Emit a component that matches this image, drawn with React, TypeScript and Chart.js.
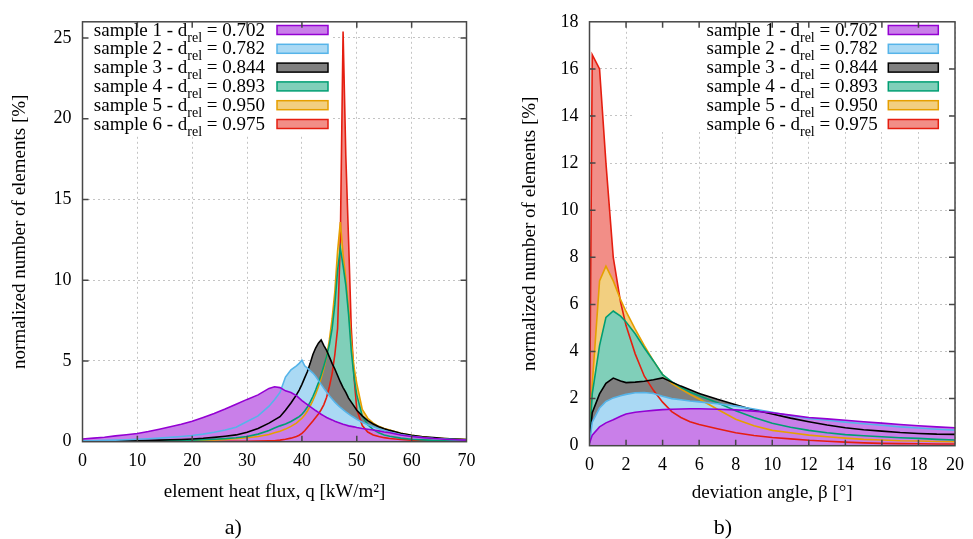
import React, { useEffect, useRef } from 'react';
import { Chart, registerables } from 'chart.js';

Chart.register(...registerables);

const SERIF = '"Liberation Serif", "Times New Roman", serif';

const SAMPLE_LABELS = ['sample 1', 'sample 2', 'sample 3', 'sample 4', 'sample 5', 'sample 6'];
const D_REL_VALUES = ['0.702', '0.782', '0.844', '0.893', '0.950', '0.975'];
const LINE_COLORS = ['#9400d3', '#56b4e9', '#000000', '#009e73', '#e69f00', '#e51e10'];
const FILL_COLORS = ['#c97fe9', '#aad9f4', '#808080', '#80cfb9', '#f2cf80', '#f28e87'];

// ---- panel a) element heat flux q [kW/m2] ----
const HEAT_FLUX = [0, 2, 4, 6, 8, 10, 12, 14, 16, 18, 20, 22, 24, 26, 28, 30, 32, 34,
  35, 36, 37, 38,
  39, 39.5, 40, 40.5, 41, 41.5, 42, 42.5, 43, 43.5, 44, 44.5, 45, 45.5, 46, 46.5, 47, 47.5, 48, 48.5, 49, 49.5, 50,
  51, 52, 53, 54, 55, 56,
  58, 60, 62, 64, 66, 68, 70];
const Q_SAMPLE1 = [0.17, 0.22, 0.28, 0.36, 0.43, 0.51, 0.63, 0.77, 0.92, 1.08, 1.26, 1.5, 1.75, 2.02, 2.32, 2.62, 2.9, 3.3,
  3.4, 3.35, 3.15, 3.05,
  2.85, 2.7, 2.55, 2.42, 2.3, 2.17, 2.05, 1.93, 1.82, 1.7, 1.6, 1.5, 1.42, 1.35, 1.27, 1.2, 1.14, 1.08, 1.03, 0.98, 0.95, 0.92, 0.88,
  0.82, 0.77, 0.72, 0.67, 0.6, 0.55,
  0.42, 0.32, 0.25, 0.2, 0.15, 0.12, 0.1];
const Q_SAMPLE2 = [0.05, 0.06, 0.08, 0.1, 0.12, 0.15, 0.18, 0.22, 0.27, 0.32, 0.38, 0.47, 0.58, 0.72, 0.9, 1.25, 1.6, 2.2,
  2.6, 3.05, 4.0, 4.45,
  4.7, 4.85, 5.05, 4.7, 4.55, 4.4, 4.25, 4.05, 3.8, 3.55, 3.3, 3.08, 2.85, 2.65, 2.45, 2.28, 2.12, 1.98, 1.85, 1.72, 1.6, 1.5, 1.38,
  1.2, 1.05, 0.92, 0.8, 0.7, 0.6,
  0.45, 0.34, 0.26, 0.2, 0.16, 0.13, 0.1];
const Q_SAMPLE3 = [0.02, 0.03, 0.04, 0.05, 0.06, 0.07, 0.09, 0.1, 0.12, 0.14, 0.17, 0.21, 0.27, 0.34, 0.42, 0.58, 0.82, 1.15,
  1.35, 1.55, 1.95, 2.4,
  2.9, 3.2, 3.55, 3.95, 4.35, 4.85, 5.4, 5.8, 6.1, 6.3, 5.95, 5.65, 5.25, 4.85, 4.5, 4.1, 3.7, 3.35, 3.05, 2.7, 2.45, 2.2, 1.95,
  1.6, 1.3, 1.1, 0.93, 0.8, 0.7,
  0.52, 0.4, 0.31, 0.25, 0.2, 0.16, 0.13];
const Q_SAMPLE4 = [0.01, 0.01, 0.02, 0.02, 0.03, 0.04, 0.05, 0.06, 0.07, 0.08, 0.1, 0.12, 0.15, 0.19, 0.24, 0.32, 0.47, 0.7,
  0.85, 0.98, 1.1, 1.25,
  1.45, 1.55, 1.7, 1.9, 2.15, 2.45, 2.8, 3.2, 3.65, 4.15, 4.7, 5.3, 6.0, 7.0, 8.5, 10.6, 12.0, 10.9, 9.7, 7.9, 5.6, 4.0, 2.9,
  1.6, 1.05, 0.75, 0.55, 0.42, 0.34,
  0.22, 0.15, 0.11, 0.08, 0.06, 0.05, 0.04];
const Q_SAMPLE5 = [0.01, 0.01, 0.01, 0.02, 0.02, 0.03, 0.03, 0.04, 0.05, 0.06, 0.07, 0.09, 0.11, 0.14, 0.18, 0.24, 0.32, 0.45,
  0.55, 0.65, 0.78, 0.95,
  1.15, 1.3, 1.45, 1.65, 1.9, 2.2, 2.55, 2.95, 3.4, 3.95, 4.55, 5.3, 6.3, 7.6, 9.3, 11.8, 13.6, 11.6, 10.1, 8.2, 6.2, 4.6, 3.6,
  2.0, 1.45, 1.15, 0.95, 0.82, 0.72,
  0.52, 0.4, 0.3, 0.23, 0.19, 0.16, 0.13];
const Q_SAMPLE6 = [0, 0, 0, 0, 0, 0.01, 0.01, 0.01, 0.01, 0.01, 0.02, 0.02, 0.02, 0.02, 0.03, 0.03, 0.04, 0.05,
  0.06, 0.1, 0.15, 0.22,
  0.32, 0.4, 0.52, 0.68, 0.88, 1.08, 1.28, 1.5, 1.72, 1.98, 2.3, 2.75, 3.4, 4.2, 5.4, 7.0, 12.5, 25.4, 17.7, 12.5, 7.0, 4.0, 2.0,
  1.0, 0.6, 0.42, 0.32, 0.25, 0.2,
  0.14, 0.1, 0.08, 0.06, 0.05, 0.04, 0.03];

// ---- panel b) deviation angle beta [deg] ----
const ANGLE = [0, 0.15, 0.55, 0.9, 1.3, 1.7, 2, 2.5, 3, 3.5, 4, 4.5, 5, 5.5, 6, 7, 8, 9, 10, 11, 12, 13, 14, 15, 16, 17, 18, 19, 20];
const B_SAMPLE1 = [0.1, 0.45, 0.8, 0.97, 1.1, 1.25, 1.35, 1.42, 1.46, 1.5, 1.53, 1.55, 1.56, 1.57, 1.57, 1.55, 1.52, 1.47, 1.4, 1.3, 1.2, 1.14, 1.08, 1.02, 0.96, 0.9, 0.85, 0.8, 0.76];
const B_SAMPLE2 = [0.1, 1.0, 1.6, 1.88, 2.03, 2.12, 2.18, 2.25, 2.26, 2.22, 2.1, 2.0, 1.95, 1.9, 1.86, 1.78, 1.68, 1.56, 1.42, 1.27, 1.16, 1.08, 1.0, 0.93, 0.87, 0.8, 0.75, 0.7, 0.66];
const B_SAMPLE3 = [0.15, 1.4, 2.2, 2.65, 2.87, 2.75, 2.68, 2.7, 2.74, 2.8, 2.88, 2.7, 2.53, 2.38, 2.22, 1.97, 1.74, 1.52, 1.35, 1.17, 1.02, 0.88, 0.76, 0.68, 0.62, 0.56, 0.52, 0.49, 0.48];
const B_SAMPLE4 = [0.2, 2.2, 4.25, 5.45, 5.72, 5.5, 5.25, 4.75, 4.15, 3.6, 3.02, 2.72, 2.48, 2.28, 2.12, 1.82, 1.48, 1.2, 0.95, 0.78, 0.65, 0.55, 0.47, 0.42, 0.38, 0.34, 0.31, 0.27, 0.24];
const B_SAMPLE5 = [0.2, 2.6, 7.0, 7.62, 7.0, 6.2, 5.7, 4.95, 4.25, 3.6, 3.02, 2.65, 2.4, 2.18, 1.98, 1.55, 1.12, 0.85, 0.65, 0.55, 0.45, 0.38, 0.32, 0.27, 0.24, 0.21, 0.2, 0.18, 0.17];
const B_SAMPLE6 = [0.1, 16.6, 16.0, 12.0, 8.0, 6.1, 5.1, 3.9, 2.95, 2.35, 1.85, 1.45, 1.2, 1.02, 0.9, 0.72, 0.55, 0.43, 0.35, 0.29, 0.23, 0.19, 0.15, 0.12, 0.1, 0.09, 0.08, 0.07, 0.07];

const Q_AXIS = { min: 0, max: 70, step: 10 };
const Q_COUNT_AXIS = { min: 0, max: 26, step: 5 };
const B_AXIS = { min: 0, max: 20, step: 2 };
const B_COUNT_AXIS = { min: 0, max: 18, step: 2 };

function buildDatasets(xs: number[], series: number[][]) {
  const lines = series.map((ys, i) => ({
    label: SAMPLE_LABELS[i] + ' line',
    data: xs.map((x, j) => ({ x, y: ys[j] })),
    borderColor: LINE_COLORS[i],
    borderWidth: 1.6,
    backgroundColor: 'rgba(0,0,0,0)',
    fill: false,
    pointRadius: 0,
    tension: 0,
  }));
  const fills = series.map((ys, i) => ({
    label: SAMPLE_LABELS[i] + ' area',
    data: xs.map((x, j) => ({ x, y: ys[j] })),
    borderColor: 'rgba(0,0,0,0)',
    borderWidth: 1,
    backgroundColor: FILL_COLORS[i],
    fill: 'origin',
    pointRadius: 0,
    tension: 0,
  }));
  // dataset 0 is painted last: lines on top, sample 1 area above sample 6 area
  return [...lines, ...fills];
}

type KeyLayout = {
  boxLeft: number; boxTop: number; boxRight: number; boxBottom: number;
  textRight: number; swatchLeft: number; swatchWidth: number;
  firstBaseline: number; rowStep: number;
};

function gnuplotFrame(key: KeyLayout) {
  return {
    id: 'gnuplotFrame',
    beforeDatasetsDraw(chart: any) {
      const ctx = chart.ctx;
      ctx.save();
      ctx.fillStyle = '#ffffff';
      ctx.fillRect(key.boxLeft, key.boxTop, key.boxRight - key.boxLeft, key.boxBottom - key.boxTop);
      ctx.textBaseline = 'alphabetic';
      ctx.textAlign = 'left';
      const mainFont = `19px ${SERIF}`;
      const subFont = `14px ${SERIF}`;
      for (let i = 0; i < SAMPLE_LABELS.length; i++) {
        const base = key.firstBaseline + i * key.rowStep;
        const p1 = `${SAMPLE_LABELS[i]} - d`;
        const p2 = 'rel';
        const p3 = ` = ${D_REL_VALUES[i]}`;
        ctx.font = mainFont;
        const w1 = ctx.measureText(p1).width;
        const w3 = ctx.measureText(p3).width;
        ctx.font = subFont;
        const w2 = ctx.measureText(p2).width;
        const x0 = key.textRight - (w1 + w2 + w3);
        ctx.fillStyle = '#000000';
        ctx.font = mainFont;
        ctx.fillText(p1, x0, base);
        ctx.fillText(p3, x0 + w1 + w2, base);
        ctx.font = subFont;
        ctx.fillText(p2, x0 + w1, base + 6);
        const sy = base - 10;
        ctx.fillStyle = FILL_COLORS[i];
        ctx.fillRect(key.swatchLeft, sy, key.swatchWidth, 9);
        ctx.strokeStyle = LINE_COLORS[i];
        ctx.lineWidth = 1.5;
        ctx.strokeRect(key.swatchLeft, sy, key.swatchWidth, 9);
      }
      ctx.restore();
    },
    afterDatasetsDraw(chart: any) {
      const ctx = chart.ctx;
      const { left, right, top, bottom } = chart.chartArea;
      const xs = chart.scales.x;
      const ys = chart.scales.y;
      ctx.save();
      ctx.strokeStyle = '#474747';
      ctx.lineWidth = 1.5;
      ctx.beginPath();
      for (const t of xs.ticks) {
        const px = xs.getPixelForValue(t.value);
        if (px <= left + 1 || px >= right - 1) continue;
        ctx.moveTo(px, bottom); ctx.lineTo(px, bottom - 6);
        ctx.moveTo(px, top); ctx.lineTo(px, top + 6);
      }
      for (const t of ys.ticks) {
        const py = ys.getPixelForValue(t.value);
        if (py <= top + 1 || py >= bottom - 1) continue;
        ctx.moveTo(left, py); ctx.lineTo(left + 6, py);
        ctx.moveTo(right, py); ctx.lineTo(right - 6, py);
      }
      ctx.stroke();
      ctx.strokeRect(left, top, right - left, bottom - top);
      ctx.restore();
    },
  };
}

type PanelSpec = {
  xs: number[]; series: number[][];
  xAxis: { min: number; max: number; step: number };
  yAxis: { min: number; max: number; step: number };
  xTitle: string; yTitle: string; caption: string;
  padRight: number; yAxisWidth: number; xAxisHeight: number;
  yTitlePad: number; xTitlePad: number; key: KeyLayout;
};

function makeConfig(p: PanelSpec): any {
  const tickFont = { family: SERIF, size: 18 };
  const titleFont = { family: SERIF, size: 19 };
  return {
    type: 'line',
    data: { datasets: buildDatasets(p.xs, p.series) },
    options: {
      animation: false,
      responsive: false,
      maintainAspectRatio: false,
      devicePixelRatio: 1,
      layout: { padding: { top: 15, right: p.padRight, left: 0, bottom: 0 } },
      plugins: {
        legend: { display: false },
        tooltip: { enabled: false },
        title: {
          display: true, text: p.caption, position: 'bottom', color: '#000000',
          font: { family: SERIF, size: 22, weight: 'normal', lineHeight: 1 },
          padding: { top: 8, bottom: 0 },
        },
      },
      scales: {
        x: {
          type: 'linear', min: p.xAxis.min, max: p.xAxis.max,
          ticks: { stepSize: p.xAxis.step, font: tickFont, color: '#000000', padding: 9, maxRotation: 0, includeBounds: false },
          grid: { color: '#c4c4c4', lineWidth: 1, drawTicks: false },
          border: { display: false, dash: [2, 3] },
          title: { display: true, text: p.xTitle, font: titleFont, color: '#000000', padding: { top: 0, bottom: p.xTitlePad } },
          afterFit: (s: any) => { s.height = p.xAxisHeight; },
        },
        y: {
          type: 'linear', min: p.yAxis.min, max: p.yAxis.max,
          ticks: { stepSize: p.yAxis.step, font: tickFont, color: '#000000', padding: 11, includeBounds: false },
          grid: { color: '#c4c4c4', lineWidth: 1, drawTicks: false },
          border: { display: false, dash: [2, 3] },
          title: { display: true, text: p.yTitle, font: titleFont, color: '#000000', padding: { top: p.yTitlePad, bottom: 0 } },
          afterFit: (s: any) => { s.width = p.yAxisWidth; },
        },
      },
    },
    plugins: [gnuplotFrame(p.key)],
  };
}

const PANEL_A: PanelSpec = {
  xs: HEAT_FLUX,
  series: [Q_SAMPLE1, Q_SAMPLE2, Q_SAMPLE3, Q_SAMPLE4, Q_SAMPLE5, Q_SAMPLE6],
  xAxis: Q_AXIS, yAxis: Q_COUNT_AXIS,
  xTitle: 'element heat flux, q [kW/m²]',
  yTitle: 'normalized number of elements [%]',
  caption: 'a)',
  padRight: 19.5, yAxisWidth: 82.5, xAxisHeight: 67.3,
  yTitlePad: 8.6, xTitlePad: 5.6,
  key: { boxLeft: 84, boxTop: 16, boxRight: 331, boxBottom: 135, textRight: 265, swatchLeft: 277, swatchWidth: 51, firstBaseline: 35.5, rowStep: 18.8 },
};

const PANEL_B: PanelSpec = {
  xs: ANGLE,
  series: [B_SAMPLE1, B_SAMPLE2, B_SAMPLE3, B_SAMPLE4, B_SAMPLE5, B_SAMPLE6],
  xAxis: B_AXIS, yAxis: B_COUNT_AXIS,
  xTitle: 'deviation angle, β [°]',
  yTitle: 'normalized number of elements [%]',
  caption: 'b)',
  padRight: 13, yAxisWidth: 103.5, xAxisHeight: 63.3,
  yTitlePad: 32.6, xTitlePad: 4.6,
  key: { boxLeft: 147, boxTop: 16, boxRight: 461, boxBottom: 132, textRight: 391.7, swatchLeft: 402.3, swatchWidth: 50, firstBaseline: 35.5, rowStep: 18.8 },
};

function Panel({ spec, left, width }: { spec: PanelSpec; left: number; width: number }) {
  const ref = useRef<HTMLCanvasElement | null>(null);
  useEffect(() => {
    if (!ref.current) return;
    const chart = new Chart(ref.current, makeConfig(spec));
    return () => chart.destroy();
  }, [spec]);
  return (
    <canvas
      ref={ref}
      width={width}
      height={539}
      style={{ position: 'absolute', left, top: 0, width, height: 539 }}
    />
  );
}

export default function App() {
  return (
    <div style={{ position: 'absolute', left: 0, top: 0, width: 973, height: 539, background: '#ffffff', overflow: 'hidden' }}>
      <Panel spec={PANEL_A} left={0} width={486} />
      <Panel spec={PANEL_B} left={486} width={487} />
    </div>
  );
}
